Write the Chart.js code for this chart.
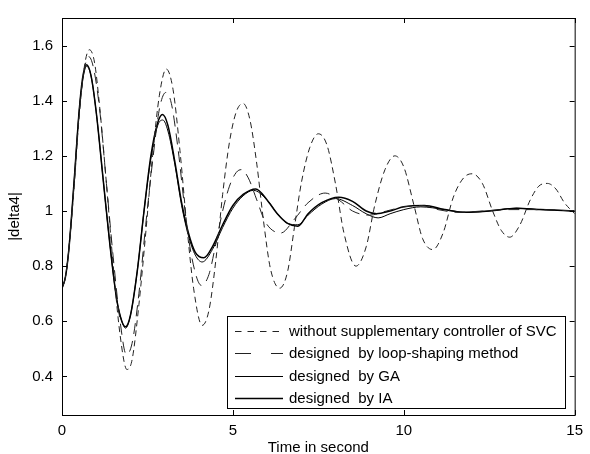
<!DOCTYPE html>
<html>
<head>
<meta charset="utf-8">
<script src="https://cdn.jsdelivr.net/npm/chart.js@4.4.0/dist/chart.umd.min.js"></script>
<style>
  body { margin: 0; background: #fff; }
  #wrap { width: 590px; height: 454px; }
</style>
</head>
<body>
<div id="wrap"><canvas id="respChart" width="590" height="454"></canvas></div>
<script>
// Data (time in s, |delta4|)
const tWithout = [0, 0.1, 0.2, 0.35, 0.5, 0.65, 0.8, 0.95, 1.1, 1.3, 1.5, 1.7, 1.9, 2.05, 2.25, 2.45, 2.65, 2.85, 3.05, 3.25, 3.45, 3.65, 3.85, 4.1, 4.3, 4.5, 4.7, 4.9, 5.1, 5.3, 5.5, 5.7, 5.9, 6.1, 6.37, 6.6, 6.8, 7.0, 7.25, 7.5, 7.75, 8.0, 8.25, 8.6, 8.9, 9.15, 9.45, 9.74, 10.0, 10.3, 10.55, 10.85, 11.15, 11.45, 11.75, 12.0, 12.3, 12.6, 12.85, 13.1, 13.4, 13.7, 13.95, 14.2, 14.45, 14.7, 15];
const vWithout = [0.72, 0.76, 0.86, 1.08, 1.34, 1.52, 1.585, 1.54, 1.38, 1.1, 0.8, 0.55, 0.425, 0.46, 0.66, 0.92, 1.2, 1.42, 1.515, 1.44, 1.22, 0.95, 0.72, 0.585, 0.64, 0.82, 1.06, 1.25, 1.36, 1.39, 1.33, 1.17, 0.96, 0.79, 0.72, 0.78, 0.94, 1.1, 1.23, 1.28, 1.24, 1.1, 0.92, 0.8, 0.87, 1.02, 1.15, 1.2, 1.16, 1.02, 0.9, 0.86, 0.92, 1.05, 1.12, 1.135, 1.1, 1.0, 0.93, 0.905, 0.95, 1.04, 1.09, 1.1, 1.08, 1.03, 0.99];

const tLoop = [0, 0.1, 0.2, 0.35, 0.5, 0.65, 0.78, 0.92, 1.1, 1.3, 1.5, 1.7, 1.88, 2.05, 2.25, 2.45, 2.65, 2.85, 3.04, 3.2, 3.4, 3.6, 3.8, 4.08, 4.3, 4.5, 4.7, 4.9, 5.1, 5.25, 5.45, 5.7, 5.95, 6.4, 6.8, 7.2, 7.7, 8.1, 8.5, 9.0, 9.5, 10.0, 10.5, 11.0, 11.6, 12.3, 13.0, 14.0, 15];
const vLoop = [0.72, 0.76, 0.86, 1.09, 1.35, 1.51, 1.56, 1.52, 1.37, 1.1, 0.83, 0.6, 0.48, 0.52, 0.7, 0.95, 1.18, 1.37, 1.43, 1.39, 1.22, 1.0, 0.83, 0.73, 0.77, 0.88, 1.0, 1.09, 1.14, 1.15, 1.12, 1.04, 0.96, 0.92, 0.97, 1.03, 1.065, 1.04, 1.0, 0.985, 1.0, 1.015, 1.02, 1.005, 0.995, 1.0, 1.005, 1.005, 1.0];

const tGA = [0, 0.1, 0.2, 0.35, 0.5, 0.6, 0.72, 0.85, 1.0, 1.2, 1.4, 1.6, 1.75, 1.86, 2.0, 2.2, 2.4, 2.6, 2.8, 2.95, 3.1, 3.3, 3.5, 3.7, 3.9, 4.1, 4.4, 4.7, 5.0, 5.3, 5.6, 6.0, 6.3, 6.6, 6.9, 7.2, 7.6, 8.0, 8.5, 8.9, 9.25, 9.6, 10.0, 10.5, 11.2, 11.8, 12.5, 13.3, 14.0, 15];
const vGA = [0.72, 0.76, 0.86, 1.1, 1.36, 1.47, 1.525, 1.49, 1.36, 1.12, 0.88, 0.68, 0.6, 0.575, 0.62, 0.78, 1.0, 1.19, 1.31, 1.33, 1.29, 1.17, 1.02, 0.91, 0.84, 0.815, 0.86, 0.94, 1.01, 1.055, 1.075, 1.04, 0.99, 0.955, 0.95, 0.985, 1.025, 1.045, 1.02, 0.99, 0.975, 0.99, 1.005, 1.015, 1.005, 0.995, 1.0, 1.01, 1.005, 1.0];

const tIA = [0, 0.1, 0.2, 0.35, 0.5, 0.6, 0.72, 0.85, 1.0, 1.2, 1.4, 1.6, 1.75, 1.86, 2.0, 2.2, 2.4, 2.6, 2.8, 2.94, 3.1, 3.3, 3.5, 3.7, 3.9, 4.15, 4.4, 4.7, 5.0, 5.3, 5.67, 6.0, 6.3, 6.6, 6.9, 7.2, 7.6, 8.1, 8.5, 8.9, 9.2, 9.6, 10.0, 10.6, 11.2, 11.8, 12.5, 13.3, 14.0, 15];
const vIA = [0.72, 0.76, 0.86, 1.1, 1.36, 1.48, 1.53, 1.49, 1.36, 1.12, 0.88, 0.68, 0.6, 0.58, 0.62, 0.78, 1.0, 1.2, 1.32, 1.35, 1.31, 1.18, 1.03, 0.92, 0.85, 0.83, 0.87, 0.95, 1.02, 1.06, 1.08, 1.04, 0.99, 0.955, 0.945, 0.99, 1.03, 1.05, 1.035, 1.0, 0.99, 1.0, 1.015, 1.02, 1.005, 0.995, 1.0, 1.01, 1.005, 1.0];

const seriesLabels = [
    'without supplementary controller of SVC',
    'designed  by loop-shaping method',
    'designed  by GA',
    'designed  by IA'
];
const xTicks = [0, 5, 10, 15];
const yTicks = [0.4, 0.6, 0.8, 1, 1.2, 1.4, 1.6];

const FONT = "'Liberation Sans', Arial, sans-serif";

function pts(ts, vs) {
    return ts.map((t, i) => ({ x: t, y: vs[i] }));
}

// Legend sample dash patterns (as printed in the reference legend)
const legendDash = [[6.5, 6], [16, 20], [], []];

// Box, inward ticks and framed legend, MATLAB style
const matlabFrame = {
    id: 'matlabFrame',
    afterDatasetsDraw(chart) {
        const { ctx, chartArea: a, scales } = chart;
        ctx.save();
        ctx.strokeStyle = '#000';
        ctx.lineWidth = 1;
        ctx.setLineDash([]);
        ctx.strokeRect(a.left + 0.5, a.top + 0.5, a.right - a.left, a.bottom - a.top);
        ctx.beginPath();
        xTicks.forEach(v => {
            const x = Math.round(scales.x.getPixelForValue(v)) + 0.5;
            ctx.moveTo(x, a.bottom); ctx.lineTo(x, a.bottom - 5);
            ctx.moveTo(x, a.top); ctx.lineTo(x, a.top + 5);
        });
        yTicks.forEach(v => {
            const y = Math.round(scales.y.getPixelForValue(v)) + 0.5;
            ctx.moveTo(a.left, y); ctx.lineTo(a.left + 5, y);
            ctx.moveTo(a.right, y); ctx.lineTo(a.right - 5, y);
        });
        ctx.stroke();

        // legend box
        const bx = 227.5, by = 316.5, bw = 338, bh = 92;
        ctx.fillStyle = '#fff';
        ctx.fillRect(bx, by, bw, bh);
        ctx.strokeRect(bx, by, bw, bh);
        ctx.font = '15px ' + FONT;
        ctx.textBaseline = 'middle';
        ctx.textAlign = 'left';
        chart.data.datasets.forEach((ds, i) => {
            const y = Math.round(331 + i * 22.3) + 0.5;
            ctx.beginPath();
            ctx.strokeStyle = ds.borderColor;
            ctx.lineWidth = ds.borderWidth;
            ctx.setLineDash(legendDash[i]);
            ctx.moveTo(235, y);
            ctx.lineTo(283, y);
            ctx.stroke();
            ctx.fillStyle = '#000';
            ctx.fillText(ds.label, 289, y);
        });
        ctx.restore();
    }
};

const ctx = document.getElementById('respChart').getContext('2d');

const respChart = new Chart(ctx, {
    type: 'line',
    data: {
        datasets: [
            {
                label: seriesLabels[0],
                data: pts(tWithout, vWithout),
                borderColor: '#222',
                borderWidth: 1,
                borderDash: [6, 4]
            },
            {
                label: seriesLabels[1],
                data: pts(tLoop, vLoop),
                borderColor: '#222',
                borderWidth: 1,
                borderDash: [11, 7]
            },
            {
                label: seriesLabels[2],
                data: pts(tGA, vGA),
                borderColor: '#000',
                borderWidth: 1
            },
            {
                label: seriesLabels[3],
                data: pts(tIA, vIA),
                borderColor: '#000',
                borderWidth: 1.5
            }
        ]
    },
    options: {
        responsive: false,
        animation: false,
        devicePixelRatio: 1,
        elements: {
            point: { radius: 0 },
            line: { cubicInterpolationMode: 'monotone', fill: false }
        },
        layout: { padding: { left: 0, right: 15, top: 12, bottom: 0 } },
        plugins: {
            legend: { display: false },
            tooltip: { enabled: false }
        },
        scales: {
            x: {
                type: 'linear',
                min: 0,
                max: 15,
                afterBuildTicks: s => { s.ticks = xTicks.map(v => ({ value: v })); },
                afterFit: s => { s.height = 39; },
                grid: { display: false, drawTicks: false },
                border: { display: false },
                ticks: { color: '#000', padding: 7, font: { family: FONT, size: 15 }, maxRotation: 0 },
                title: {
                    display: true,
                    text: 'Time in second',
                    color: '#000',
                    padding: { top: 0, bottom: -3 },
                    font: { family: FONT, size: 15 }
                }
            },
            y: {
                min: 0.26,
                max: 1.7,
                afterBuildTicks: s => { s.ticks = yTicks.map(v => ({ value: v })); },
                afterFit: s => { s.width = 62; },
                grid: { display: false, drawTicks: false },
                border: { display: false },
                ticks: {
                    color: '#000',
                    padding: 9,
                    font: { family: FONT, size: 15 },
                    callback: v => String(Number(v.toFixed(1)))
                },
                title: {
                    display: true,
                    text: '|delta4|',
                    color: '#000',
                    padding: { top: 6, bottom: 0 },
                    font: { family: FONT, size: 15 }
                }
            }
        }
    },
    plugins: [matlabFrame]
});
</script>
</body>
</html>
